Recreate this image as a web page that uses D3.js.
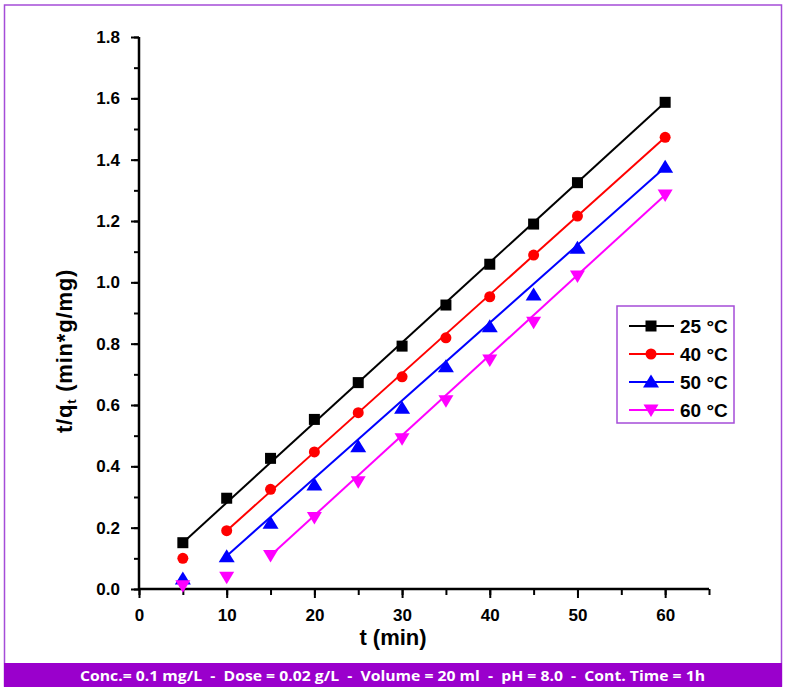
<!DOCTYPE html>
<html>
<head>
<meta charset="utf-8">
<script src="https://cdn.jsdelivr.net/npm/d3@7"></script>
<style>
  html, body { margin: 0; padding: 0; background: #fff; }
  svg { display: block; }
</style>
</head>
<body>
<svg id="chart" width="786" height="693"></svg>
<script>
// ---- Data ----
const times = [5, 10, 15, 20, 25, 30, 35, 40, 45, 50, 60];
const seriesNames = ["25 °C", "40 °C", "50 °C", "60 °C"];
const t25 = [0.151, 0.296, 0.426, 0.553, 0.673, 0.792, 0.926, 1.059, 1.190, 1.325, 1.587];
const t40 = [0.100, 0.190, 0.325, 0.447, 0.575, 0.692, 0.819, 0.953, 1.089, 1.216, 1.473];
const t50 = [0.033, 0.105, 0.214, 0.339, 0.464, 0.589, 0.725, 0.855, 0.959, 1.111, 1.375];
const t60 = [0.011, 0.038, 0.109, 0.233, 0.350, 0.490, 0.614, 0.747, 0.870, 1.021, 1.285];
// linear fit lines: [tStart, yStart, tEnd, yEnd]
const fit25 = [5, 0.151, 60, 1.587];
const fit40 = [10, 0.190, 60, 1.473];
const fit50 = [10, 0.108, 60, 1.375];
const fit60 = [15, 0.109, 60, 1.285];
const xTicks = [0, 10, 20, 30, 40, 50, 60];
const yTicks = [0.0, 0.2, 0.4, 0.6, 0.8, 1.0, 1.2, 1.4, 1.6, 1.8];
const footerText = "Conc.= 0.1 mg/L  -  Dose = 0.02 g/L  -  Volume = 20 ml  -  pH = 8.0  -  Cont. Time = 1h";

const colors = ["#000000", "#ff0000", "#0000ff", "#ff00ff"];
const symbols = ["square", "circle", "up", "down"];
const allSeries = [t25, t40, t50, t60];
const allFits = [fit25, fit40, fit50, fit60];

const svg = d3.select("#chart");
const FONT = "'Liberation Sans', Arial, sans-serif";

// frame & footer banner
svg.append("rect").attr("x", 4.5).attr("y", 5).attr("width", 777).attr("height", 681)
  .attr("fill", "none").attr("stroke", "#a54cd8").attr("stroke-width", 1.5);
svg.append("rect").attr("x", 4).attr("y", 663).attr("width", 778).attr("height", 24)
  .attr("fill", "#9a00cc");
svg.append("text").attr("x", 80).attr("y", 681)
  .attr("textLength", 625).attr("lengthAdjust", "spacingAndGlyphs")
  .style("white-space", "pre")
  .attr("font-family", "'Open Sans', sans-serif").attr("font-weight", "bold")
  .attr("font-size", 15).attr("fill", "#fff").text(footerText);

// scales
const x = d3.scaleLinear().domain([0, 65]).range([139, 709]);
const y = d3.scaleLinear().domain([0, 1.8]).range([589, 37]);

// x axis
const gx = svg.append("g").attr("transform", "translate(0,589)");
gx.append("g").call(d3.axisBottom(x).tickValues(d3.range(0, 66, 5)).tickSize(6).tickFormat(""))
  .call(g => g.select(".domain").remove())
  .selectAll("line").attr("stroke-width", 2);
gx.append("g").call(d3.axisBottom(x).tickValues(xTicks).tickSize(9).tickPadding(11).tickFormat(d3.format("d")))
  .call(g => g.select(".domain").remove())
  .call(g => g.selectAll("line").attr("stroke-width", 2))
  .call(g => g.selectAll("text").attr("font-family", FONT).attr("font-weight", "bold")
        .attr("font-size", 17).attr("fill", "#000"));
gx.append("line").attr("x1", x(0) - 1).attr("x2", x(65)).attr("y1", 0).attr("y2", 0)
  .attr("stroke", "#000").attr("stroke-width", 2.5);

// y axis
const gy = svg.append("g").attr("transform", "translate(139,0)");
gy.append("g").call(d3.axisLeft(y).tickValues(d3.range(0, 19).map(i => i / 10)).tickSize(5).tickFormat(""))
  .call(g => g.select(".domain").remove())
  .selectAll("line").attr("stroke-width", 2);
gy.append("g").call(d3.axisLeft(y).tickValues(yTicks).tickSize(8).tickPadding(11).tickFormat(d3.format(".1f")))
  .call(g => g.select(".domain").remove())
  .call(g => g.selectAll("line").attr("stroke-width", 2))
  .call(g => g.selectAll("text").attr("font-family", FONT).attr("font-weight", "bold")
        .attr("font-size", 17).attr("fill", "#000"));
gy.append("line").attr("x1", 0).attr("x2", 0).attr("y1", y(1.8)).attr("y2", y(0) + 1)
  .attr("stroke", "#000").attr("stroke-width", 2.5);

// axis titles
svg.append("text").attr("x", 393).attr("y", 645).attr("text-anchor", "middle")
  .attr("font-family", FONT).attr("font-weight", "bold").attr("font-size", 22).text("t (min)");
const yl = svg.append("text").attr("transform", "translate(72,351) rotate(-90)")
  .attr("text-anchor", "middle").attr("font-family", FONT).attr("font-weight", "bold")
  .attr("font-size", 22).attr("letter-spacing", 0.8);
yl.append("tspan").text("t/q");
yl.append("tspan").attr("font-size", 13).attr("dy", 4).text("t");
yl.append("tspan").attr("dy", -4).text(" (min*g/mg)");

// marker drawing
function drawMarker(g, type, cx, cy, color) {
  if (type === "square") {
    g.append("rect").attr("x", cx - 5.5).attr("y", cy - 5.5).attr("width", 11).attr("height", 11).attr("fill", color);
  } else if (type === "circle") {
    g.append("circle").attr("cx", cx).attr("cy", cy).attr("r", 5.5).attr("fill", color);
  } else if (type === "up") {
    g.append("path").attr("d", `M${cx},${cy - 7.5}L${cx + 8},${cy + 5.5}L${cx - 8},${cy + 5.5}Z`).attr("fill", color);
  } else {
    g.append("path").attr("d", `M${cx},${cy + 7}L${cx + 7.5},${cy - 5.5}L${cx - 7.5},${cy - 5.5}Z`).attr("fill", color);
  }
}

// fit lines
allFits.forEach((f, i) => {
  svg.append("line").attr("x1", x(f[0])).attr("y1", y(f[1])).attr("x2", x(f[2])).attr("y2", y(f[3]))
    .attr("stroke", colors[i]).attr("stroke-width", 2);
});
// points
allSeries.forEach((vals, i) => {
  const g = svg.append("g");
  vals.forEach((v, j) => drawMarker(g, symbols[i], x(times[j]), y(v), colors[i]));
});

// legend
const lg = svg.append("g");
lg.append("rect").attr("x", 617).attr("y", 306).attr("width", 117).attr("height", 117)
  .attr("fill", "#fff").attr("stroke", "#a54cd8").attr("stroke-width", 1.5);
seriesNames.forEach((name, i) => {
  const yy = 326 + i * 28;
  lg.append("line").attr("x1", 629).attr("x2", 674).attr("y1", yy).attr("y2", yy)
    .attr("stroke", colors[i]).attr("stroke-width", 2);
  drawMarker(lg, symbols[i], 651, yy, colors[i]);
  lg.append("text").attr("x", 680).attr("y", yy + 7).attr("font-family", FONT)
    .attr("font-weight", "bold").attr("font-size", 19).text(name);
});
</script>
</body>
</html>
